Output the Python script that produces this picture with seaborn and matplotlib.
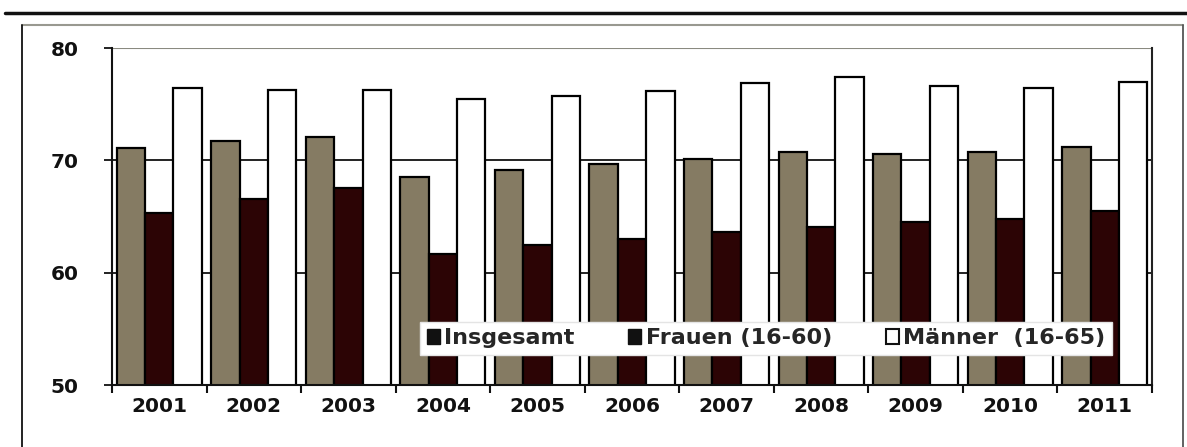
import matplotlib
matplotlib.use("Agg")
import matplotlib.pyplot as plt
import seaborn as sns
import pandas as pd
from matplotlib.patches import Patch
from matplotlib.lines import Line2D

years = ["2001", "2002", "2003", "2004", "2005", "2006", "2007", "2008", "2009", "2010", "2011"]
insgesamt = [71.1, 71.7, 72.1, 68.5, 69.1, 69.7, 70.1, 70.7, 70.6, 70.7, 71.2]
frauen = [65.3, 66.6, 67.5, 61.7, 62.5, 63.0, 63.6, 64.1, 64.5, 64.8, 65.5]
maenner = [76.4, 76.3, 76.3, 75.5, 75.7, 76.2, 76.9, 77.4, 76.6, 76.4, 77.0]
series = ["Insgesamt", "Frauen (16-60)", "Männer  (16-65)"]
yticks = [50, 60, 70, 80]

rows = []
for name, vals in zip(series, [insgesamt, frauen, maenner]):
    for y, v in zip(years, vals):
        rows.append({"Jahr": y, "Quote": v, "Gruppe": name})
df = pd.DataFrame(rows)

sns.set_theme(style="white")
plt.rcParams["font.family"] = ["DejaVu Sans"]

colors = ["#857b63", "#2c0405", "#ffffff"]
fig = plt.figure(figsize=(11.87, 4.47), dpi=100)
ax = fig.add_axes([112 / 1187, (447 - 385) / 447, (1152 - 112) / 1187, (385 - 48) / 447])

sns.barplot(data=df, x="Jahr", y="Quote", hue="Gruppe", order=years, hue_order=series,
            palette=colors, width=0.9, ax=ax, legend=False, saturation=1,
            edgecolor="black", linewidth=1.6)

ax.set_ylim(50, 80)
ax.set_xlim(-0.5, len(years) - 0.5)
ax.set_yticks(yticks)
ax.set_xlabel("")
ax.set_ylabel("")
for y in [60, 70]:
    ax.axhline(y, color="#111111", lw=1.3, zorder=0)
ax.axhline(80, color="#8a8a80", lw=1.5, zorder=0)

for s in ["left", "bottom"]:
    ax.spines[s].set_color("#111111")
    ax.spines[s].set_linewidth(1.5)
ax.spines["top"].set_visible(False)
ax.spines["right"].set_color("#222222")
ax.spines["right"].set_linewidth(1.5)

ax.set_xticks([i + 0.5 for i in range(-1, len(years))], minor=True)
ax.tick_params(axis="x", which="major", length=0, pad=9, labelsize=14.5)
ax.tick_params(axis="x", which="minor", length=6, width=1.5, color="#111111", direction="out", bottom=True)
ax.tick_params(axis="y", length=6, width=1.3, color="#111111", direction="out", left=True, pad=18, labelsize=14.5)
for lab in ax.get_xticklabels() + ax.get_yticklabels():
    lab.set_fontweight("bold")
    lab.set_color("#111111")

handles = [Patch(facecolor="#111111", edgecolor="#111111"),
           Patch(facecolor="#111111", edgecolor="#111111"),
           Patch(facecolor="white", edgecolor="#111111", linewidth=1.5)]
leg = ax.legend(handles, series, ncol=3, loc="lower left",
                bbox_to_anchor=((420 - 112) / 1040, (385 - 355) / 337),
                frameon=True, fancybox=False, handlelength=0.6, handleheight=0.6,
                handletextpad=0.2, columnspacing=2.4, borderaxespad=0,
                borderpad=0.3, prop={"size": 16, "weight": "bold"})
leg.get_frame().set_facecolor("white")
leg.get_frame().set_edgecolor("#e4e4e4")
leg.get_frame().set_alpha(1)

# page frame decorations
fig.add_artist(Line2D([5 / 1187, 1], [1 - 13 / 447, 1 - 13 / 447], color="#111111", lw=2.5))
fig.add_artist(Line2D([22 / 1187, 1183 / 1187], [1 - 25 / 447, 1 - 25 / 447], color="#999990", lw=1.5))
fig.add_artist(Line2D([22 / 1187, 22 / 1187], [0, 1 - 25 / 447], color="#111111", lw=1.3))
fig.add_artist(Line2D([1183 / 1187, 1183 / 1187], [0, 1 - 25 / 447], color="#555555", lw=1.3))

fig.savefig("out.png", dpi=100)
